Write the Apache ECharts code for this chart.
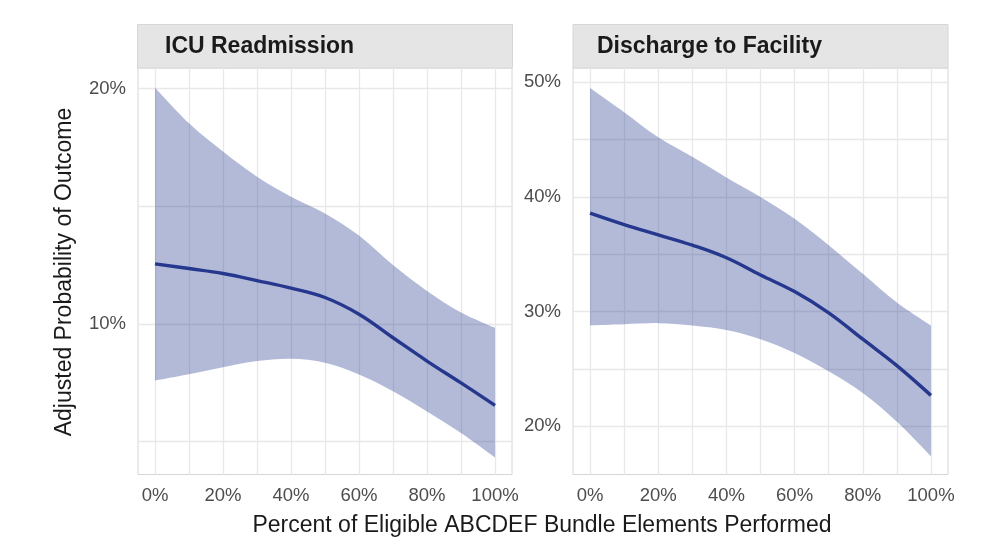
<!DOCTYPE html>
<html>
<head>
<meta charset="utf-8">
<script src="https://cdn.jsdelivr.net/npm/echarts@6.0.0/dist/echarts.min.js"></script>
<style>
html,body{margin:0;padding:0;background:#ffffff;}
#chart{width:1006px;height:553px;}
</style>
</head>
<body>
<div id="chart"></div>
<script>
// ---- data (percent) ----
const xPercent = [0, 10, 20, 30, 40, 50, 60, 70, 80, 90, 100];

const icuFit   = [12.55, 12.35, 12.14, 11.84, 11.52, 11.12, 10.41, 9.41, 8.42, 7.49, 6.54];
const icuUpper = [20.03, 18.52, 17.32, 16.25, 15.40, 14.69, 13.75, 12.50, 11.40, 10.48, 9.83];
const icuLower = [7.59, 7.86, 8.16, 8.42, 8.52, 8.35, 7.85, 7.14, 6.28, 5.36, 4.32];

const dcFit   = [38.6, 37.6, 36.7, 35.8, 34.7, 33.2, 31.75, 29.9, 27.6, 25.3, 22.7];
const dcUpper = [49.5, 47.4, 45.2, 43.5, 41.7, 40.0, 38.1, 35.8, 33.3, 30.8, 28.8];
const dcLower = [28.8, 28.9, 29.0, 28.8, 28.4, 27.6, 26.4, 24.8, 22.9, 20.4, 17.4];

const panelTitles = ['ICU Readmission', 'Discharge to Facility'];
const xTickLabels = [0, 20, 40, 60, 80, 100];
const icuTickLabels = [10, 20];
const dcTickLabels = [20, 30, 40, 50];
const xTitle = 'Percent of Eligible ABCDEF Bundle Elements Performed';
const yTitle = 'Adjusted Probability of Outcome';

// ---- styles ----
const FONT = '"Liberation Sans", Arial, Helvetica, sans-serif';
const GRID_C = '#e8e8e8';
const LINE_C = '#25388e';
const RIBBON_C = 'rgba(37,56,142,0.35)';
const TICK_C = '#4d4d4d';

function pairs(xs, ys) { return xs.map((x, i) => [x, ys[i]]); }
function near(v, list) { return list.some(t => Math.abs(v - t) < 1e-6); }

// splitline colour pattern: gridline every `period` ticks, first at `offset`
function pattern(period, offset) {
  const a = [];
  for (let i = 0; i < period; i++) a.push(i === offset ? GRID_C : 'rgba(0,0,0,0)');
  return a;
}

// Catmull-Rom segments through pixel points (rendering only)
function curveSegs(p, moveFirst) {
  let d = moveFirst ? 'M' + p[0][0] + ' ' + p[0][1] : 'L' + p[0][0] + ' ' + p[0][1];
  const t = 1;
  for (let i = 0; i < p.length - 1; i++) {
    const p0 = p[Math.max(0, i - 1)], p1 = p[i], p2 = p[i + 1], p3 = p[Math.min(p.length - 1, i + 2)];
    const c1x = p1[0] + (p2[0] - p0[0]) / 6 * t, c1y = p1[1] + (p2[1] - p0[1]) / 6 * t;
    const c2x = p2[0] - (p3[0] - p1[0]) / 6 * t, c2y = p2[1] - (p3[1] - p1[1]) / 6 * t;
    d += ' C' + c1x + ' ' + c1y + ' ' + c2x + ' ' + c2y + ' ' + p2[0] + ' ' + p2[1];
  }
  return d;
}

function ribbonSeries(gi, xs, up, lo) {
  return {
    type: 'custom', xAxisIndex: gi, yAxisIndex: gi, coordinateSystem: 'cartesian2d',
    data: [[xs[0], up[0]]], silent: true, z: 2,
    renderItem: function (params, api) {
      const upPts = xs.map((x, i) => api.coord([x, up[i]]));
      const loPts = xs.map((x, i) => api.coord([x, lo[i]])).reverse();
      const d = curveSegs(upPts, true) + ' ' + curveSegs(loPts, false) + ' Z';
      return { type: 'path', shape: { pathData: d }, style: { fill: RIBBON_C, stroke: null } };
    }
  };
}

const grids = [
  { left: 138, right: 494, top: 68, bottom: 78.5 },
  { left: 573, right: 58, top: 68, bottom: 78.5 }
];

function xAxisFor(gi) {
  return {
    type: 'value', gridIndex: gi, min: -5, max: 105, interval: 5,
    axisLine: { show: false }, axisTick: { show: false },
    axisLabel: {
      margin: 12, color: TICK_C, fontSize: 18.5, fontFamily: FONT,
      formatter: v => near(v, xTickLabels) ? Math.round(v) + '%' : ''
    },
    splitLine: { show: true, lineStyle: { color: pattern(2, 1), width: 1.3 } }
  };
}

const option = {
  backgroundColor: '#ffffff',
  animation: false,
  grid: grids.map(g => Object.assign({ show: true, borderColor: '#d6d6d6', borderWidth: 1, backgroundColor: '#ffffff', containLabel: false }, g)),
  xAxis: [xAxisFor(0), xAxisFor(1)],
  yAxis: [
    {
      type: 'value', gridIndex: 0, min: 3.6, max: 20.87, interval: 0.2,
      axisLine: { show: false }, axisTick: { show: false },
      axisLabel: { margin: 12, color: TICK_C, fontSize: 18.5, fontFamily: FONT,
        formatter: v => near(v, icuTickLabels) ? Math.round(v) + '%' : '' },
      splitLine: { show: true, lineStyle: { color: pattern(25, 7), width: 1.3 } }
    },
    {
      type: 'value', gridIndex: 1, min: 15.8, max: 51.25, interval: 0.2,
      axisLine: { show: false }, axisTick: { show: false },
      axisLabel: { margin: 12, color: TICK_C, fontSize: 18.5, fontFamily: FONT,
        formatter: v => near(v, dcTickLabels) ? Math.round(v) + '%' : '' },
      splitLine: { show: true, lineStyle: { color: pattern(25, 21), width: 1.3 } }
    }
  ],
  series: [
    ribbonSeries(0, xPercent, icuUpper, icuLower),
    { type: 'line', xAxisIndex: 0, yAxisIndex: 0, data: pairs(xPercent, icuFit),
      smooth: 0.4, symbol: 'none', lineStyle: { color: LINE_C, width: 3.4 }, z: 5 },
    ribbonSeries(1, xPercent, dcUpper, dcLower),
    { type: 'line', xAxisIndex: 1, yAxisIndex: 1, data: pairs(xPercent, dcFit),
      smooth: 0.4, symbol: 'none', lineStyle: { color: LINE_C, width: 3.4 }, z: 5 }
  ],
  graphic: [
    { type: 'rect', shape: { x: 137.5, y: 24.5, width: 375, height: 43.5 },
      style: { fill: '#e5e5e5', stroke: '#d6d6d6', lineWidth: 1 } },
    { type: 'rect', shape: { x: 573, y: 24.5, width: 375, height: 43.5 },
      style: { fill: '#e5e5e5', stroke: '#d6d6d6', lineWidth: 1 } },
    { type: 'text', x: 165, y: 47, style: { text: panelTitles[0], font: 'bold 23px ' + FONT, fill: '#1a1a1a', verticalAlign: 'middle', align: 'left' } },
    { type: 'text', x: 597, y: 47, style: { text: panelTitles[1], font: 'bold 23px ' + FONT, fill: '#1a1a1a', verticalAlign: 'middle', align: 'left' } },
    { type: 'text', x: 542, y: 526, style: { text: xTitle, font: '23px ' + FONT, fill: '#1a1a1a', verticalAlign: 'middle', align: 'center' } },
    { type: 'text', x: 65, y: 272, rotation: Math.PI / 2, style: { text: yTitle, font: '23px ' + FONT, fill: '#1a1a1a', verticalAlign: 'middle', align: 'center' } }
  ]
};

const chart = echarts.init(document.getElementById('chart'), null, { renderer: 'canvas' });
chart.setOption(option);
</script>
</body>
</html>
